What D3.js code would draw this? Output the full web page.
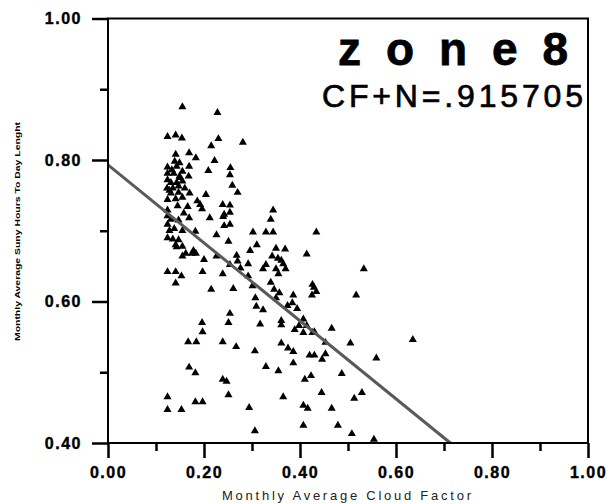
<!DOCTYPE html>
<html>
<head>
<meta charset="utf-8">
<script src="https://d3js.org/d3.v7.min.js"></script>
<title>zone 8</title>
<style>
body { margin: 0; background: #fff; }
text { font-family: "Liberation Sans", Arial, sans-serif; }
</style>
</head>
<body>
<svg id="canvas" width="609" height="504"></svg>
<script>
// monthly average cloud factor (x) and sunny hours / day length (y)
var cloudFactor = [
  0.155, 0.228, 0.124, 0.141, 0.154, 0.230, 0.281, 0.215, 0.141, 0.169, 0.183, 0.222,
  0.139, 0.149, 0.124, 0.143, 0.155, 0.169, 0.209, 0.255, 0.254, 0.124, 0.137, 0.149,
  0.168, 0.124, 0.131, 0.143, 0.155, 0.123, 0.135, 0.147, 0.259, 0.270, 0.170, 0.204,
  0.131, 0.147, 0.124, 0.141, 0.155, 0.186, 0.192, 0.239, 0.254, 0.166, 0.196, 0.242,
  0.254, 0.344, 0.339, 0.124, 0.124, 0.131, 0.147, 0.169, 0.212, 0.124, 0.242, 0.254,
  0.155, 0.182, 0.302, 0.329, 0.344, 0.434, 0.226, 0.124, 0.135, 0.147, 0.251, 0.141,
  0.155, 0.143, 0.310, 0.350, 0.369, 0.296, 0.162, 0.175, 0.183, 0.414, 0.155, 0.226,
  0.268, 0.342, 0.354, 0.200, 0.270, 0.361, 0.254, 0.292, 0.329, 0.365, 0.276, 0.323,
  0.350, 0.370, 0.533, 0.124, 0.141, 0.153, 0.197, 0.239, 0.292, 0.355, 0.141, 0.339,
  0.426, 0.301, 0.346, 0.429, 0.215, 0.261, 0.434, 0.357, 0.425, 0.517, 0.386, 0.350,
  0.307, 0.384, 0.394, 0.374, 0.309, 0.323, 0.254, 0.196, 0.251, 0.317, 0.361, 0.407,
  0.361, 0.398, 0.414, 0.466, 0.389, 0.197, 0.407, 0.426, 0.430, 0.167, 0.184, 0.239,
  0.361, 0.453, 0.505, 0.635, 0.267, 0.375, 0.306, 0.386, 0.453, 0.420, 0.430, 0.446,
  0.559, 0.386, 0.329, 0.169, 0.182, 0.355, 0.487, 0.423, 0.410, 0.239, 0.247, 0.124,
  0.251, 0.365, 0.445, 0.529, 0.513, 0.182, 0.197, 0.124, 0.153, 0.294, 0.407, 0.416,
  0.466, 0.407, 0.479, 0.306, 0.508, 0.554,
  0.133, 0.150, 0.128, 0.160, 0.145, 0.138, 0.178, 0.128, 0.158, 0.240
];
var sunRatio = [
  0.875, 0.867, 0.833, 0.835, 0.831, 0.830, 0.825, 0.820, 0.808, 0.810, 0.803, 0.799,
  0.798, 0.796, 0.790, 0.791, 0.784, 0.791, 0.785, 0.789, 0.779, 0.781, 0.781, 0.777,
  0.777, 0.772, 0.768, 0.768, 0.770, 0.760, 0.760, 0.763, 0.764, 0.754, 0.753, 0.751,
  0.753, 0.754, 0.744, 0.745, 0.747, 0.742, 0.737, 0.737, 0.736, 0.734, 0.731, 0.723,
  0.726, 0.729, 0.716, 0.729, 0.721, 0.716, 0.715, 0.718, 0.718, 0.709, 0.707, 0.709,
  0.700, 0.699, 0.698, 0.698, 0.698, 0.698, 0.694, 0.690, 0.688, 0.687, 0.685, 0.680,
  0.678, 0.677, 0.680, 0.675, 0.674, 0.672, 0.668, 0.668, 0.668, 0.667, 0.664, 0.664,
  0.665, 0.664, 0.661, 0.659, 0.657, 0.658, 0.652, 0.653, 0.652, 0.653, 0.647, 0.646,
  0.646, 0.646, 0.646, 0.642, 0.642, 0.636, 0.642, 0.639, 0.636, 0.639, 0.626, 0.627,
  0.624, 0.622, 0.617, 0.620, 0.617, 0.618, 0.614, 0.612, 0.609, 0.609, 0.609, 0.605,
  0.605, 0.598, 0.590, 0.594, 0.593, 0.588, 0.583, 0.570, 0.570, 0.568, 0.573, 0.575,
  0.567, 0.566, 0.566, 0.562, 0.560, 0.557, 0.556, 0.556, 0.557, 0.543, 0.543, 0.543,
  0.541, 0.542, 0.541, 0.546, 0.536, 0.534, 0.530, 0.529, 0.526, 0.524, 0.524, 0.518,
  0.520, 0.513, 0.508, 0.507, 0.499, 0.502, 0.498, 0.495, 0.490, 0.490, 0.487, 0.465,
  0.468, 0.465, 0.471, 0.471, 0.463, 0.458, 0.458, 0.447, 0.447, 0.450, 0.453, 0.449,
  0.449, 0.425, 0.425, 0.417, 0.413, 0.405,
  0.786, 0.775, 0.757, 0.760, 0.735, 0.703, 0.672, 0.700, 0.725, 0.720
];
var xTicks = [0, 0.2, 0.4, 0.6, 0.8, 1.0];
var xMinor = [0.1, 0.3, 0.5, 0.7, 0.9];
var yTicks = [0.4, 0.6, 0.8, 1.0];
var yMinor = [0.5, 0.7, 0.9];
// fitted line
var fitIntercept = 0.793;
var fitSlope = -0.551;

var plotLeft = 108, plotRight = 588, plotTop = 18.5, plotBottom = 443;

var svg = d3.select("#canvas");

var xScale = d3.scaleLinear().domain([0, 1]).range([plotLeft, plotRight]);
var yScale = d3.scaleLinear().domain([0.4, 1.0]).range([plotBottom, plotTop]);

var points = cloudFactor.map(function(d, i) { return [d, sunRatio[i]]; });

// points
svg.append("g").selectAll("path").data(points).enter()
   .append("path")
   .attr("d", d3.symbol().type(d3.symbolTriangle).size(28))
   .attr("transform", function(d) { return "translate(" + xScale(d[0]) + "," + yScale(d[1]) + ")"; })
   .style("fill", "#000");

// regression line, stopped at the bottom axis
var xEnd = (0.4 - fitIntercept) / fitSlope;
svg.append("line")
   .attr("x1", xScale(0)).attr("y1", yScale(fitIntercept))
   .attr("x2", xScale(xEnd)).attr("y2", yScale(fitIntercept + fitSlope * xEnd))
   .style("stroke", "#5a5a5a").style("stroke-width", 3);

// frame
svg.append("rect")
   .attr("x", plotLeft).attr("y", plotTop)
   .attr("width", plotRight - plotLeft).attr("height", plotBottom - plotTop)
   .style("fill", "none").style("stroke", "#000").style("stroke-width", 2);

// axes
var xAxis = d3.axisBottom(xScale).tickValues(xTicks).tickSize(15).tickPadding(6)
              .tickFormat(d3.format(".2f"));
var gx = svg.append("g").attr("transform", "translate(0," + plotBottom + ")").call(xAxis);
gx.select(".domain").remove();
gx.selectAll("line").style("stroke-width", 2.5);
gx.selectAll("text").style("font-size", "16px").style("font-weight", "bold")
  .style("letter-spacing", "1.5px").style("stroke", "#000").style("stroke-width", 0.4)
  .attr("dy", "0.9em");

var gxm = svg.append("g").attr("transform", "translate(0," + plotBottom + ")")
             .call(d3.axisBottom(xScale).tickValues(xMinor).tickSize(8).tickFormat(""));
gxm.select(".domain").remove();
gxm.selectAll("line").style("stroke-width", 2.5);

var yAxis = d3.axisLeft(yScale).tickValues(yTicks).tickSize(16).tickPadding(10)
              .tickFormat(d3.format(".2f"));
var gy = svg.append("g").attr("transform", "translate(" + plotLeft + ",0)").call(yAxis);
gy.select(".domain").remove();
gy.selectAll("line").style("stroke-width", 2.5);
gy.selectAll("text").style("font-size", "16px").style("font-weight", "bold")
  .style("letter-spacing", "1.5px").style("stroke", "#000").style("stroke-width", 0.4);

var gym = svg.append("g").attr("transform", "translate(" + plotLeft + ",0)")
             .call(d3.axisLeft(yScale).tickValues(yMinor).tickSize(8).tickFormat(""));
gym.select(".domain").remove();
gym.selectAll("line").style("stroke-width", 2.5);

// axis titles
svg.append("text")
   .attr("x", 222).attr("y", 500)
   .attr("textLength", 249).attr("lengthAdjust", "spacing")
   .style("font-size", "13px").style("fill", "#222")
   .text("Monthly Average Cloud Factor");

svg.append("text")
   .attr("transform", "translate(20,341) rotate(-90)")
   .attr("textLength", 219).attr("lengthAdjust", "spacingAndGlyphs")
   .style("font-size", "8px").style("font-weight", "bold")
   .text("Monthly Average Suny Hours To Day Lenght");

// chart labels
svg.append("text")
   .attr("x", 338).attr("y", 65)
   .attr("textLength", 230).attr("lengthAdjust", "spacing")
   .style("font-size", "46px").style("font-weight", "bold")
   .style("stroke", "#000").style("stroke-width", 0.8)
   .text("z o n e 8");

svg.append("text")
   .attr("x", 322).attr("y", 107)
   .attr("textLength", 261).attr("lengthAdjust", "spacing")
   .style("font-size", "32px")
   .style("stroke", "#000").style("stroke-width", 0.7)
   .text("CF+N=.915705");
</script>
</body>
</html>
